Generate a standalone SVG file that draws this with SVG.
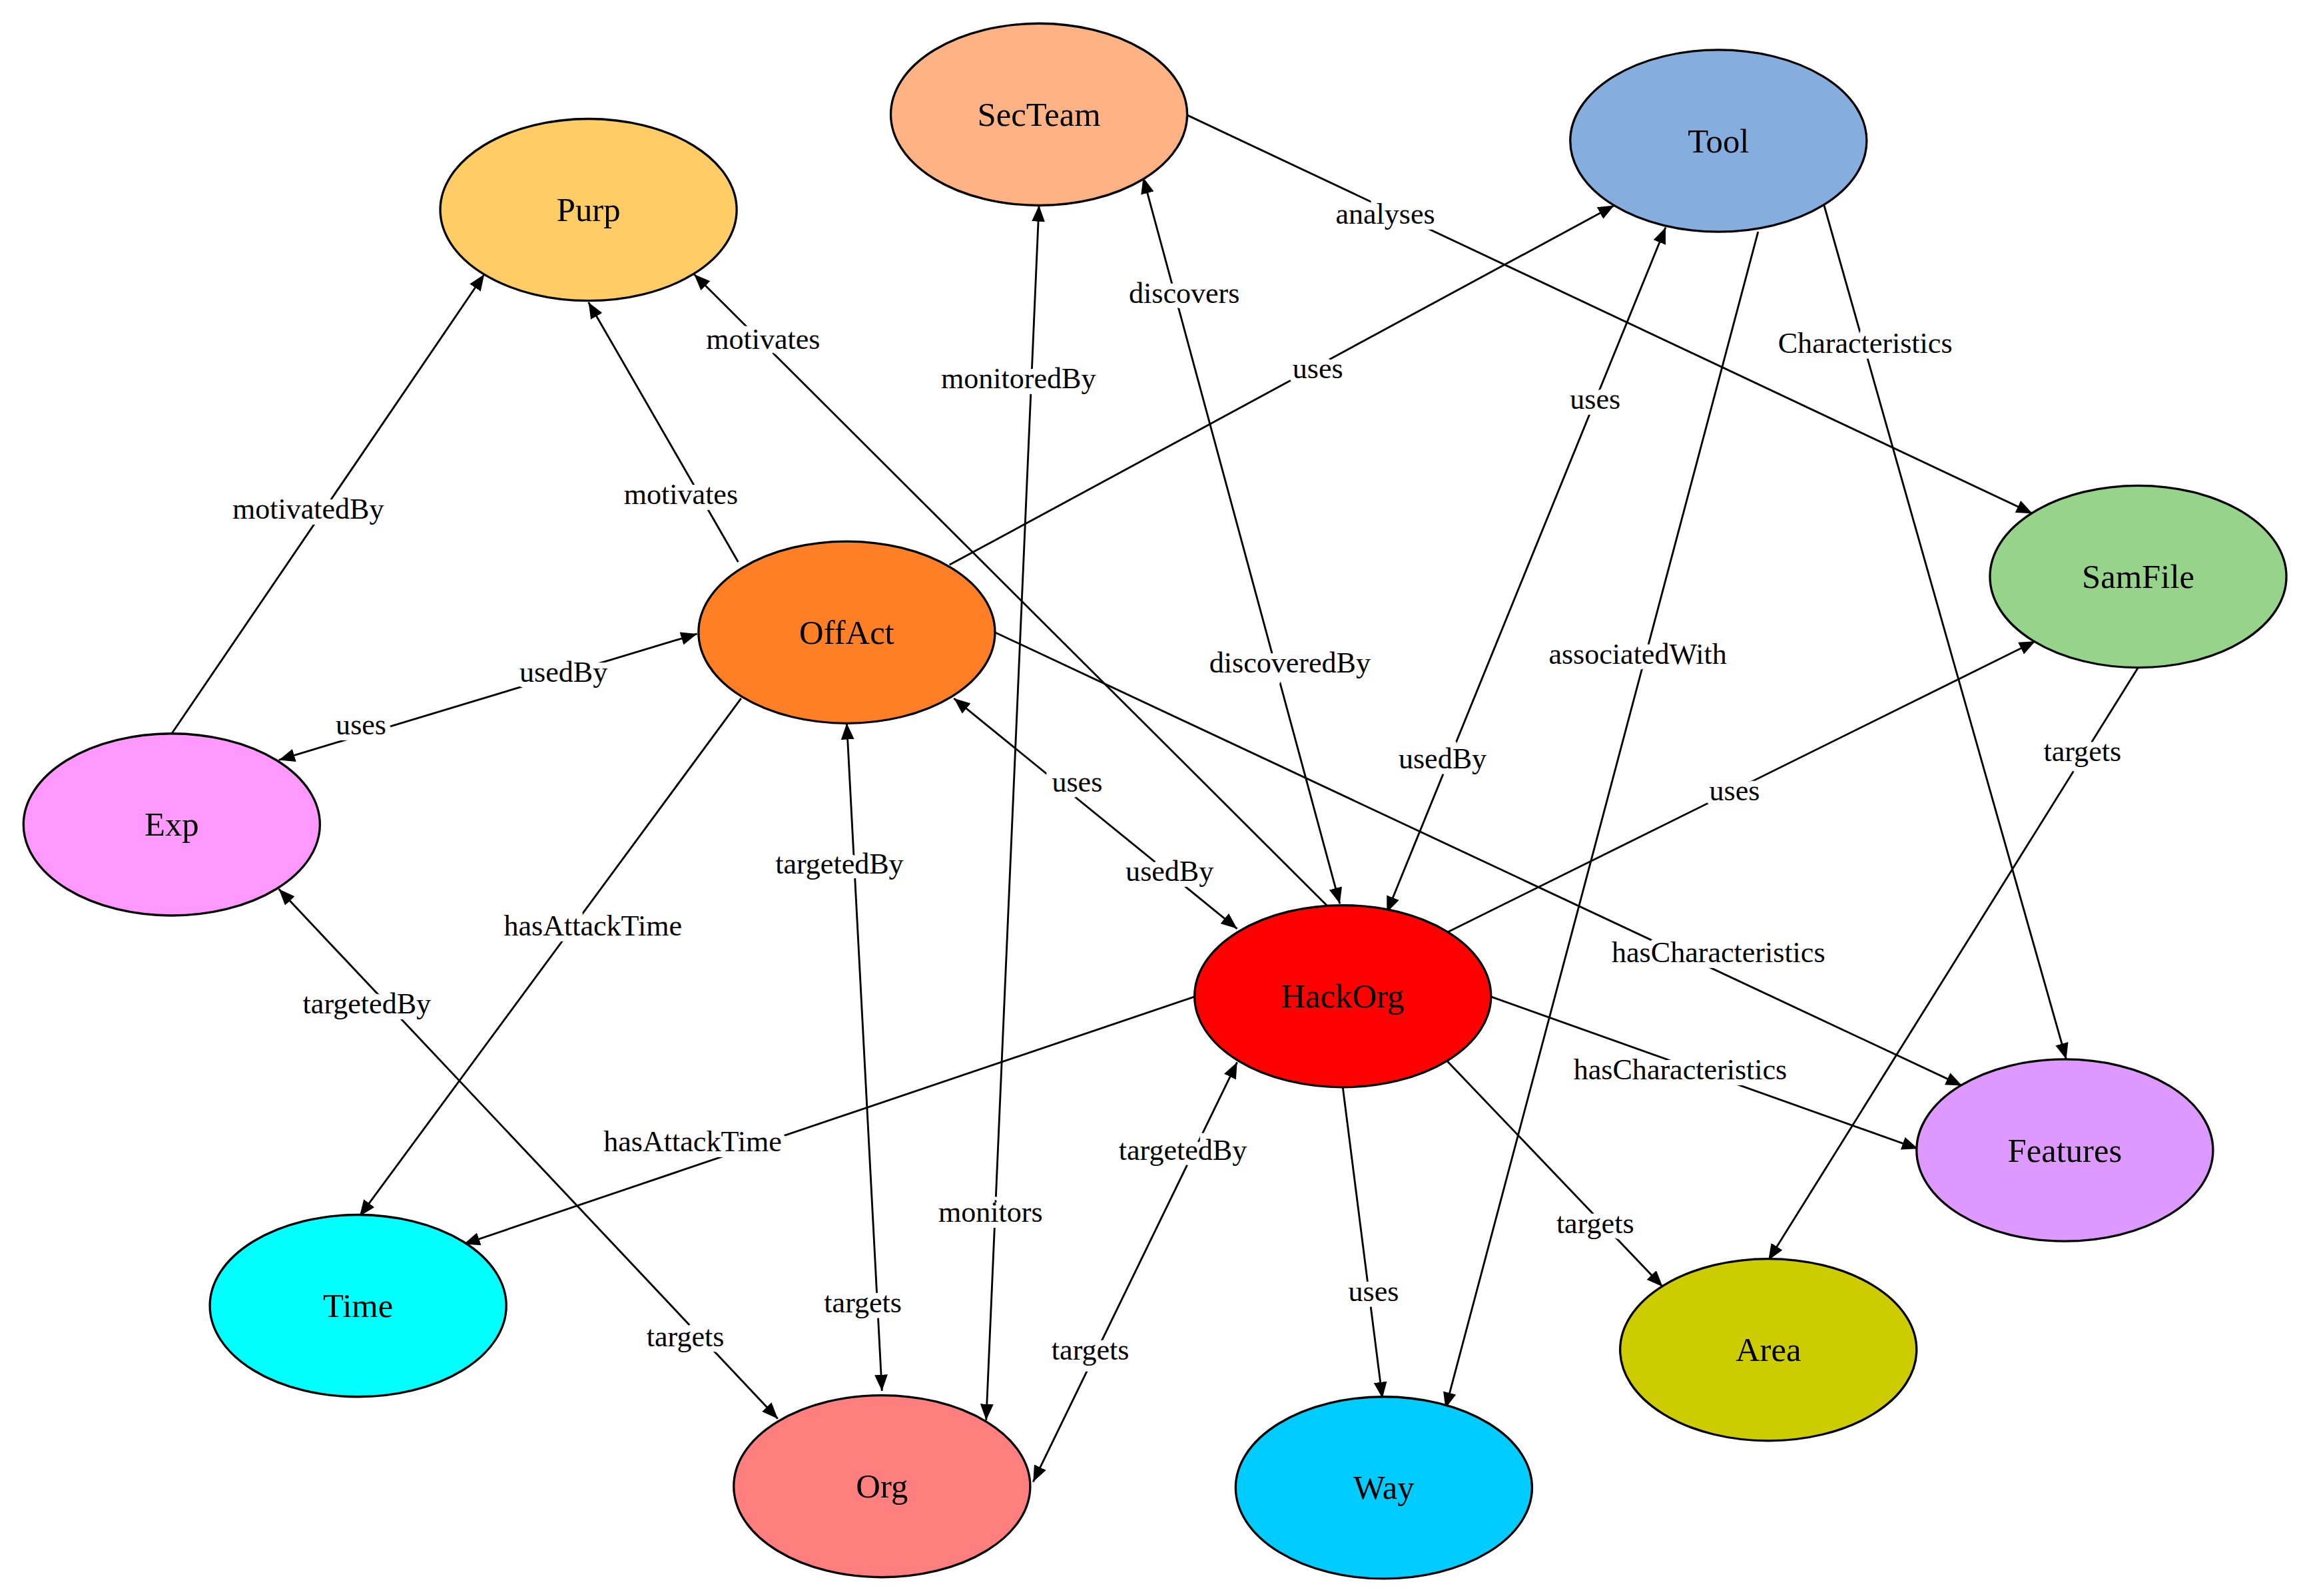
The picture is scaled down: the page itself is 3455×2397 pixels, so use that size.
<svg xmlns="http://www.w3.org/2000/svg" width="3455" height="2397" viewBox="0 0 3455 2397">
<style>
.e{stroke:#000;stroke-width:1.3;fill:none;marker-end:url(#a)}
.b{marker-start:url(#a)}
.l{font-family:"Liberation Serif",serif;font-size:20px;text-anchor:middle;dominant-baseline:central;paint-order:stroke;stroke:#fff;stroke-width:8px;fill:#000}
.n ellipse{stroke:#000;stroke-width:1.5}
.n text{font-family:"Liberation Serif",serif;font-size:23px;text-anchor:middle;dominant-baseline:central;fill:#000}
</style>
<defs>
<marker id="a" markerUnits="userSpaceOnUse" markerWidth="11" markerHeight="9" refX="11" refY="4.5" orient="auto-start-reverse"><path d="M0,0L11,4.5L0,9z" fill="#000"/></marker>
</defs>
<rect width="3455" height="2397" fill="#fff"/>
<g transform="scale(2.2035)">
<g id="connectors">
<line class="e" x1="808" y1="78" x2="1385" y2="350"/><text class="l" x="944" y="146">analyses</text>
<line class="e" x1="1243" y1="140" x2="1408" y2="722"/><text class="l" x="1271" y="234">Characteristics</text>
<line class="e" x1="647" y1="385" x2="1100" y2="140"/><text class="l" x="898" y="251">uses</text>
<line class="e b" x1="1135" y1="155" x2="945" y2="622"/><text class="l" x="1087" y="272">uses</text><text class="l" x="983" y="517">usedBy</text>
<line class="e b" x1="475" y1="432" x2="190" y2="518"/><text class="l" x="384" y="458">usedBy</text><text class="l" x="246" y="494">uses</text>
<line class="e b" x1="650" y1="476" x2="843" y2="633"/><text class="l" x="734" y="533">uses</text><text class="l" x="797" y="594">usedBy</text>
<line class="e b" x1="779" y1="121" x2="913" y2="616"/><text class="l" x="807" y="200">discovers</text><text class="l" x="879" y="452">discoveredBy</text>
<line class="e b" x1="708" y1="140" x2="672" y2="968"/><text class="l" x="694" y="258">monitoredBy</text><text class="l" x="675" y="826">monitors</text>
<line class="e" x1="503" y1="383" x2="401" y2="206"/><text class="l" x="464" y="337">motivates</text>
<line class="e" x1="905" y1="618" x2="473" y2="187"/><text class="l" x="520" y="231">motivates</text>
<line class="e" x1="117" y1="500" x2="330" y2="187"/><text class="l" x="210" y="347">motivatedBy</text>
<line class="e" x1="505" y1="476" x2="245" y2="829"/><text class="l" x="404" y="631">hasAttackTime</text>
<line class="e" x1="815" y1="679" x2="316" y2="848"/><text class="l" x="472" y="778">hasAttackTime</text>
<line class="e b" x1="190" y1="606" x2="530" y2="967"/><text class="l" x="250" y="684">targetedBy</text><text class="l" x="467" y="911">targets</text>
<line class="e b" x1="577" y1="493" x2="601" y2="948"/><text class="l" x="572" y="589">targetedBy</text><text class="l" x="588" y="888">targets</text>
<line class="e b" x1="843" y1="724" x2="704" y2="1010"/><text class="l" x="806" y="784">targetedBy</text><text class="l" x="743" y="920">targets</text>
<line class="e" x1="915" y1="741" x2="942" y2="953"/><text class="l" x="936" y="880">uses</text>
<line class="e" x1="985" y1="722" x2="1133" y2="877"/><text class="l" x="1087" y="834">targets</text>
<line class="e" x1="1015" y1="679" x2="1307" y2="783"/><text class="l" x="1145" y="729">hasCharacteristics</text>
<line class="e" x1="678" y1="431" x2="1337" y2="740"/><text class="l" x="1171" y="649">hasCharacteristics</text>
<line class="e" x1="985" y1="636" x2="1387" y2="437"/><text class="l" x="1182" y="539">uses</text>
<line class="e" x1="1457" y1="455" x2="1205" y2="859"/><text class="l" x="1419" y="512">targets</text>
<line class="e" x1="1198" y1="158" x2="985" y2="960"/><text class="l" x="1116" y="446">associatedWith</text>
</g>
<g id="SecTeam" class="n"><ellipse cx="708" cy="78" rx="101" ry="62" fill="#FFB384"/><text x="708" y="78">SecTeam</text></g>
<g id="Purp" class="n"><ellipse cx="401" cy="143" rx="101" ry="62" fill="#FFCC66"/><text x="401" y="143">Purp</text></g>
<g id="Tool" class="n"><ellipse cx="1171" cy="96" rx="101" ry="62" fill="#85ADDE"/><text x="1171" y="96">Tool</text></g>
<g id="SamFile" class="n"><ellipse cx="1457" cy="393" rx="101" ry="62" fill="#96D48B"/><text x="1457" y="393">SamFile</text></g>
<g id="OffAct" class="n"><ellipse cx="577" cy="431" rx="101" ry="62" fill="#FF7F27"/><text x="577" y="431">OffAct</text></g>
<g id="Exp" class="n"><ellipse cx="117" cy="562" rx="101" ry="62" fill="#FF99FF"/><text x="117" y="562">Exp</text></g>
<g id="HackOrg" class="n"><ellipse cx="915" cy="679" rx="101" ry="62" fill="#FF0000"/><text x="915" y="679">HackOrg</text></g>
<g id="Features" class="n"><ellipse cx="1407" cy="784" rx="101" ry="62" fill="#DD99FF"/><text x="1407" y="784">Features</text></g>
<g id="Time" class="n"><ellipse cx="244" cy="890" rx="101" ry="62" fill="#00FFFF"/><text x="244" y="890">Time</text></g>
<g id="Area" class="n"><ellipse cx="1205" cy="920" rx="101" ry="62" fill="#CCCC00"/><text x="1205" y="920">Area</text></g>
<g id="Org" class="n"><ellipse cx="601" cy="1013" rx="101" ry="62" fill="#FF7F7F"/><text x="601" y="1013">Org</text></g>
<g id="Way" class="n"><ellipse cx="943" cy="1014" rx="101" ry="62" fill="#00CCFF"/><text x="943" y="1014">Way</text></g>
</g>
</svg>
